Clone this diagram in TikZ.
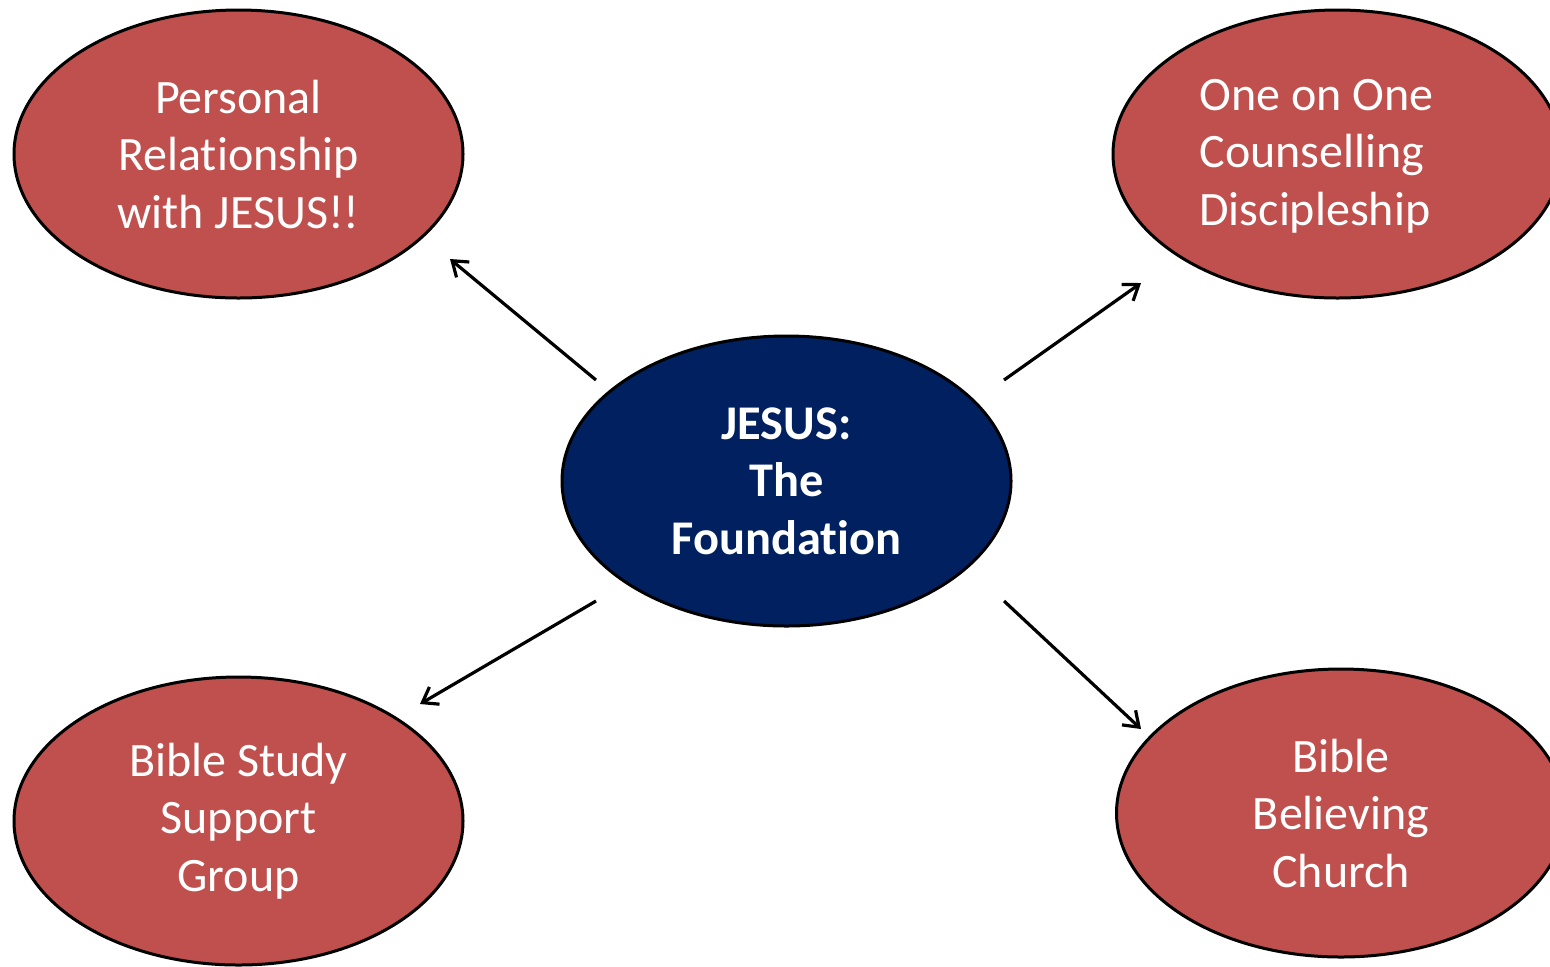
\documentclass[tikz,border=0pt]{standalone}
\usepackage{fontspec}
\setmainfont{Carlito}[Ligatures={NoCommon}]
\usetikzlibrary{shapes.geometric,arrows.meta}
\definecolor{bubblered}{HTML}{C0504D}
\definecolor{navy}{HTML}{002060}
\begin{document}
\begin{tikzpicture}[x=0.5pt,y=-0.5pt,
  bubble/.style={ellipse,draw=black,line width=1.5pt,fill=bubblered,
    minimum width=224.5pt,minimum height=144pt,inner sep=0pt,
    text=white,align=center,font=\fontsize{24}{28.75}\selectfont},
  core/.style={bubble,fill=navy,minimum height=145pt,font=\fontsize{24.2}{28.75}\selectfont\bfseries},
  lbl/.style={text=white,align=left,inner sep=0pt,font=\fontsize{24}{28.75}\selectfont},
  arr/.style={line width=1.6pt,-{Straight Barb[length=7pt,width=10pt]}}]
\useasboundingbox (0,0) rectangle (1550,966);
\node[core] (c) at (786.5,481) {JESUS:\\The\\Foundation};
\node[bubble] (tl) at (238.5,154) {Personal\\Relationship\\with JESUS!!};
\node[bubble] (tr) at (1337.5,154) {};
\node[lbl,anchor=west] (trt) at (1199,156) {One on One\\Counselling\\Discipleship};
\node[bubble] (bl) at (238.5,821) {Bible Study\\Support\\Group};
\node[bubble] (br) at (1341,813) {Bible\\Believing\\Church};
\coordinate (s1) at (596,380); \coordinate (e1) at (450,259);
\coordinate (s2) at (1004,380); \coordinate (e2) at (1141,283);
\coordinate (s3) at (596,601); \coordinate (e3) at (420,704);
\coordinate (s4) at (1004,601); \coordinate (e4) at (1141,729);
\draw[arr] (s1) -- (e1);
\draw[arr] (s2) -- (e2);
\draw[arr] (s3) -- (e3);
\draw[arr] (s4) -- (e4);
\end{tikzpicture}
\end{document}
